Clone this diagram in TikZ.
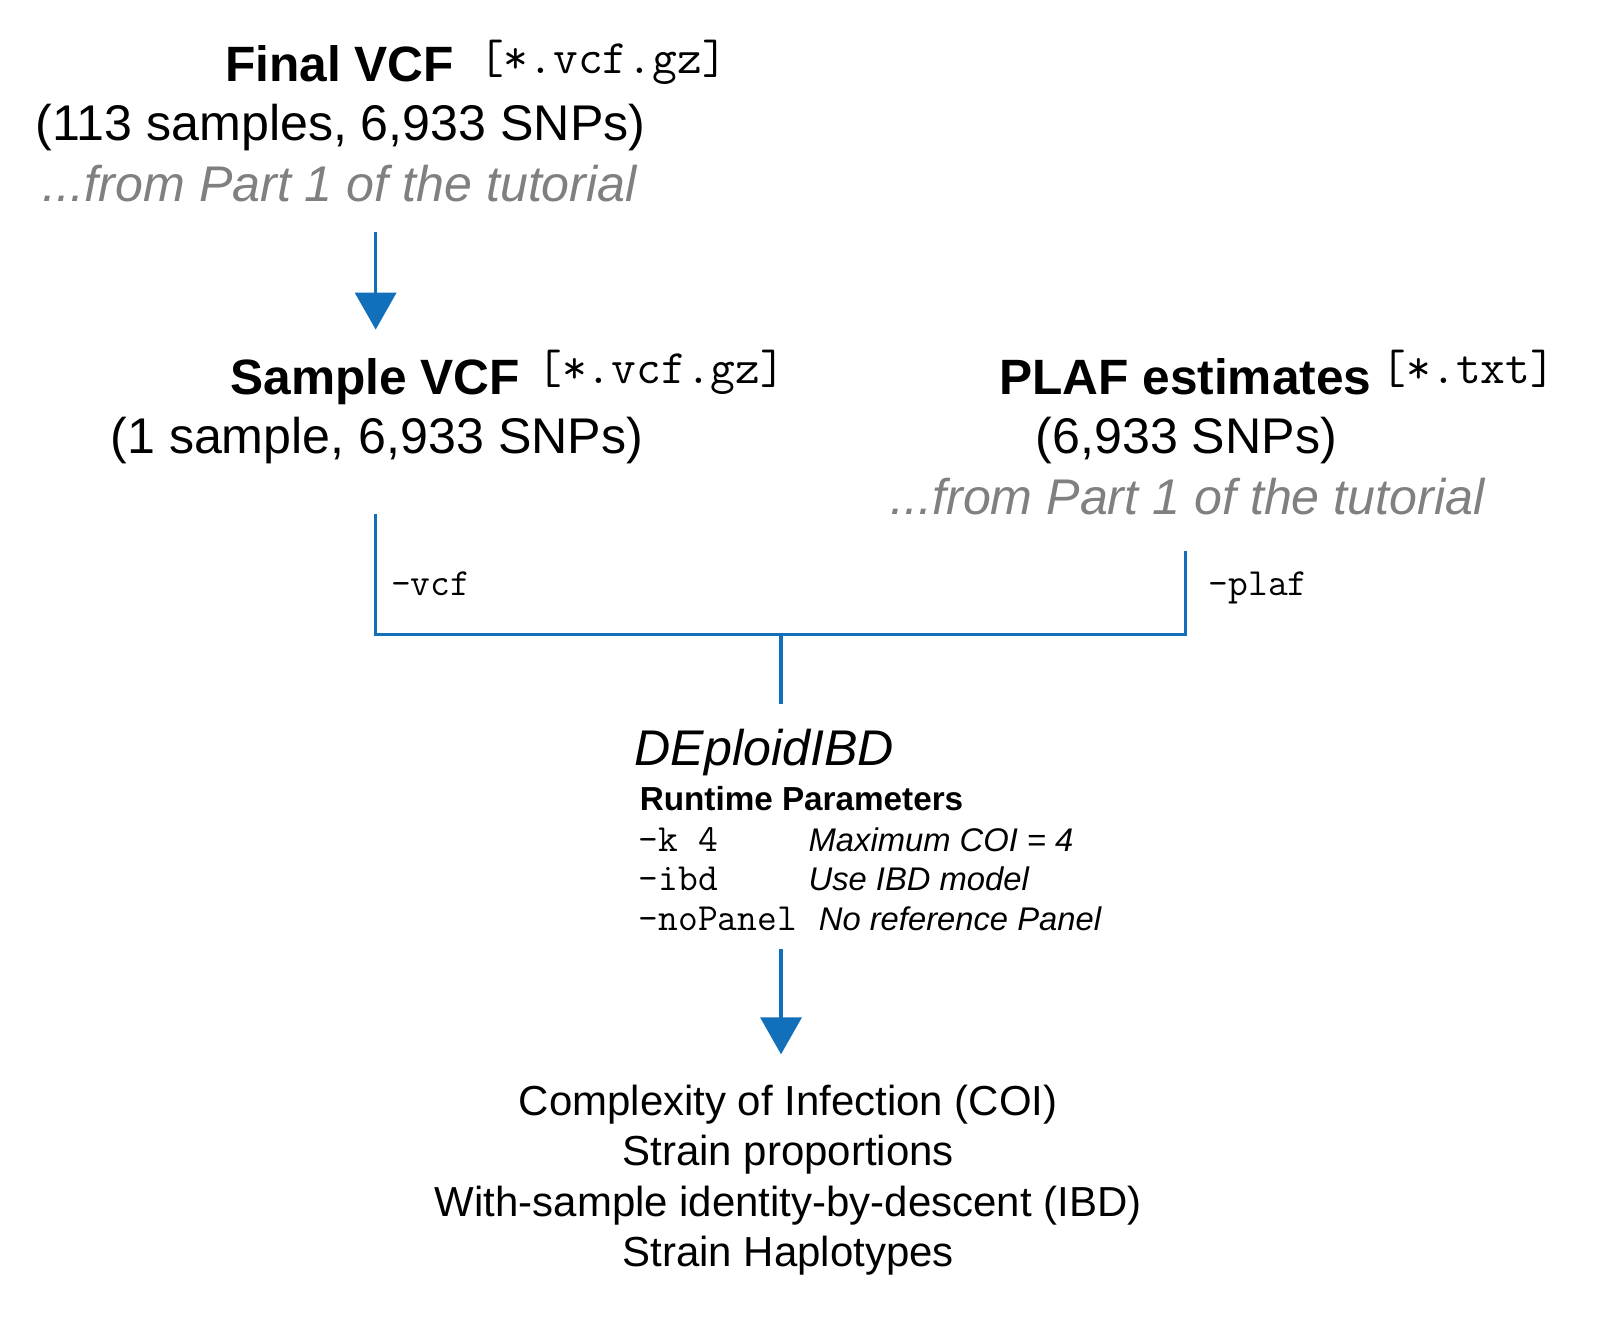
\documentclass[tikz,border=0pt]{standalone}
\usepackage{fontspec}
\setmainfont{Liberation Sans}
\setmonofont{Latin Modern Mono}
\usetikzlibrary{arrows.meta}
\definecolor{flowblue}{RGB}{18,112,186}
\definecolor{notegray}{RGB}{128,128,128}
\tikzset{
  txt/.style={inner sep=0pt, outer sep=0pt, anchor=base west},
  big/.style={txt, font=\fontsize{49}{58}\selectfont},
  bigbold/.style={txt, font=\fontsize{48.5}{58}\selectfont\bfseries},
  note/.style={txt, font=\fontsize{49}{58}\selectfont\itshape, text=notegray},
  ext/.style={txt, font=\fontsize{47}{52}\ttfamily},
  flag/.style={txt, font=\fontsize{37.5}{42}\ttfamily},
  param/.style={txt, font=\fontsize{32}{38}\selectfont\itshape},
  outtxt/.style={inner sep=0pt, anchor=base, font=\fontsize{41}{49}\selectfont},
  conn/.style={draw=flowblue, line width=3.3pt},
  arr/.style={conn, -{Triangle[width=40pt,length=36pt]}},
}
\begin{document}
\begin{tikzpicture}[x=1pt,y=-1pt]
\useasboundingbox (0,0) rectangle (1568,1292);
% Final VCF
\node[bigbold] (fv) at (220,80) {Final VCF};
\node[ext] (fvx) at (468,72) {[*.vcf.gz]};
\node[big] (fv2) at (35,137) {(113 samples, 6,933 SNPs)};
\node[note] (fv3) at (42,197) {...from Part 1 of the tutorial};
% Sample VCF
\node[bigbold] (sv) at (225,385) {Sample VCF};
\node[ext] (svx) at (525,375) {[*.vcf.gz]};
\node[big] (sv2) at (108,443) {(1 sample, 6,933 SNPs)};
% PLAF
\node[bigbold] (pl) at (976,385) {PLAF estimates};
\node[ext] (plx) at (1350,375) {[*.txt]};
\node[big] (pl2) at (1012,443) {(6,933 SNPs)};
\node[note] (pl3) at (870,503) {...from Part 1 of the tutorial};
% flags
\node[flag] (fvcf) at (382,582) {-vcf};
\node[flag] (fplaf) at (1181,582) {-plaf};
% DEploidIBD
\node[txt, font=\fontsize{49}{58}\selectfont\itshape] (dep) at (620,748) {DEploidIBD};
\node[txt, font=\fontsize{32.5}{38}\selectfont\bfseries] (rp) at (625,792) {Runtime Parameters};
\node[flag] (k) at (624,832) {-k 4};
\node[param] (kd) at (790,832) {Maximum COI = 4};
\node[flag] (ibd) at (624,870) {-ibd};
\node[param] (ibdd) at (790,870) {Use IBD model};
\node[flag] (np) at (624,909) {-noPanel};
\node[param] (npd) at (800,909) {No reference Panel};
% outputs
\node[outtxt] (o1) at (770,1090) {Complexity of Infection (COI)};
\node[outtxt] (o2) at (770,1139) {Strain proportions};
\node[outtxt] (o3) at (770,1188) {With-sample identity-by-descent (IBD)};
\node[outtxt] (o4) at (770,1237) {Strain Haplotypes};
% connector points
\coordinate (a1s) at (367,227);
\coordinate (a1e) at (367,322);
\coordinate (svb) at (367,502);
\coordinate (plb) at (1158,538);
\coordinate (jl) at (367,620);
\coordinate (jr) at (1158,620);
\coordinate (jm) at (763,620);
\coordinate (dept) at (763,688);
\coordinate (a2s) at (763,927);
\coordinate (a2e) at (763,1030);
% connectors
\draw[arr] (a1s) -- (a1e);
\draw[conn] (svb) -- (jl) -- (jr) -- (plb);
\draw[conn] (jm) -- (dept);
\draw[arr] (a2s) -- (a2e);
\end{tikzpicture}
\end{document}
